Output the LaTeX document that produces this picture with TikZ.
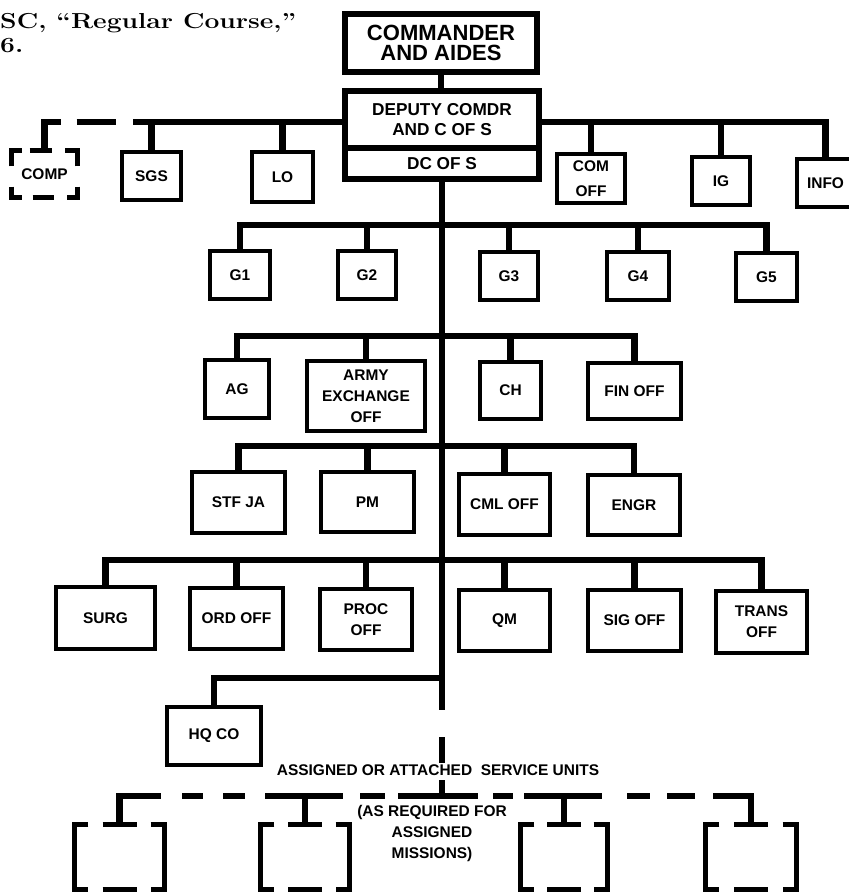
\documentclass[tikz,border=0pt]{standalone}
\usepackage{fontspec}
\setsansfont{Liberation Sans}
\usepackage{graphicx}
\usetikzlibrary{calc}

\tikzset{
  chief/.style={draw, line width=5.5pt, inner sep=0pt, align=center,
    font=\sffamily\bfseries\fontsize{14.7}{17}\selectfont},
  office/.style={draw, line width=3.4pt, inner sep=0pt, align=center,
    font=\sffamily\bfseries\fontsize{13.2}{18}\selectfont},
  ghostbox/.style={inner sep=0pt, align=center,
    font=\sffamily\bfseries\fontsize{13.2}{18}\selectfont},
  caption/.style={inner sep=0pt, align=center,
    font=\sffamily\bfseries\fontsize{13.2}{18}\selectfont},
  link/.style={line width=5.5pt},
  ghost/.style={line width=4.6pt},
}

% broken frame of a unit that is only attached
\newcommand\svcframe[1]{%
  \draw[ghost] ($(#1.north west)+(14,0)$) -- (#1.north west) -- (#1.south west) -- ++(14,0);
  \draw[ghost] ($(#1.north east)+(-14,0)$) -- (#1.north east) -- (#1.south east) -- ++(-14,0);
  \draw[ghost] ($(#1.north)+(-17,0)$) -- ++(34,0);
  \draw[ghost] ($(#1.south)+(-17,0)$) -- ++(34,0);
}

\begin{document}
\begin{tikzpicture}[x=0.03cm, y=-0.03cm]
 \clip (0,0) rectangle (849,895);

 % text cut from the page
 \node[anchor=north west, align=left, inner sep=0pt, font=\bfseries\fontsize{18.5}{20.5}\selectfont] (head) at (0,13)
   {\scalebox{1.22}[1]{SC, “Regular Course,”}\\\scalebox{1.22}[1]{6.}};

 % command group
 \node[chief, font=\sffamily\bfseries\fontsize{18.8}{17}\selectfont, minimum width=5.76cm, minimum height=1.74cm] (cmdr) at (441,43) {COMMANDER\\AND AIDES};
 \node[chief, minimum width=5.82cm, minimum height=1.71cm] (dep) at (442,119.5) {DEPUTY COMDR\\AND C OF S};
 \node[chief, minimum width=5.82cm, minimum height=0.93cm] (dcs) at (442,163.5) {DC OF S};
 \draw[link] (cmdr.south) -- (cmdr.south |- dep.north);

 % personal staff
 \coordinate (sbus) at (0,122);
 \node[ghostbox, minimum width=1.98cm, minimum height=1.41cm] (comp) at (44.5,174) {COMP};
 \node[office, minimum width=1.77cm, minimum height=1.44cm] (sgs) at (151.5,176) {SGS};
 \node[office, minimum width=1.83cm, minimum height=1.5cm] (lo) at (282.5,177) {LO};
 \node[office, minimum width=2.04cm, minimum height=1.47cm] (comoff) at (591,178.5) {COM\\[3pt]OFF};
 \node[office, minimum width=1.74cm, minimum height=1.44cm] (ig) at (721,181) {IG};
 \node[office, minimum width=1.71cm, minimum height=1.44cm] (info) at (825.5,183) {INFO};
 \draw[link] (dep.east |- sbus) -| (info.north);
 \foreach \n in {comoff,ig,sgs,lo} \draw[link] (\n.north) -- (\n.north |- sbus);
 \draw[link] (dep.west |- sbus) -- ($(sgs.north |- sbus)+(-19,0)$);
 \draw[link] (comp.north) |- ($(comp.north |- sbus)+(16,0)$);
 \draw[link] ($(comp.north |- sbus)+(32,0)$) -- ++(39,0);
 \draw[ghost] ($(comp.north west)+(0,16)$) -- (comp.north west) -- ++(11,0);
 \draw[ghost] ($(comp.north east)+(0,16)$) -- (comp.north east) -- ++(-13,0);
 \draw[ghost] ($(comp.south west)+(0,-11)$) -- (comp.south west) -- ++(11,0);
 \draw[ghost] ($(comp.south east)+(0,-11)$) -- (comp.south east) -- ++(-11,0);
 \draw[ghost] ($(comp.north)+(-15,0)$) -- ++(22,0);
 \draw[ghost] ($(comp.south)+(-12,0)$) -- ++(21,0);

 % general staff
 \coordinate (gbus) at (0,225);
 \node[office, minimum width=1.8cm, minimum height=1.44cm] (g1) at (240,275) {G1};
 \node[office, minimum width=1.74cm, minimum height=1.44cm] (g2) at (367,275) {G2};
 \node[office, minimum width=1.74cm, minimum height=1.44cm] (g3) at (509,276) {G3};
 \node[office, minimum width=1.86cm, minimum height=1.44cm] (g4) at (638,276) {G4};
 \node[office, minimum width=1.83cm, minimum height=1.44cm] (g5) at (766.5,277) {G5};
 \draw[link] (g1.north) |- (g5.north |- gbus) -- (g5.north);
 \foreach \n in {g2,g3,g4} \draw[link] (\n.north) -- (\n.north |- gbus);

 % special staff
 \coordinate (abus) at (0,336);
 \node[office, minimum width=1.92cm, minimum height=1.74cm] (ag) at (237,389) {AG};
 \node[office, minimum width=3.54cm, minimum height=2.1cm] (army) at (366,396) {ARMY\\EXCHANGE\\OFF};
 \node[office, minimum width=1.83cm, minimum height=1.71cm] (ch) at (510.5,390.5) {CH};
 \node[office, minimum width=2.79cm, minimum height=1.68cm] (fin) at (634.5,391) {FIN OFF};
 \draw[link] (ag.north) |- (fin.north |- abus) -- (fin.north);
 \foreach \n in {army,ch} \draw[link] (\n.north) -- (\n.north |- abus);

 \coordinate (tbus) at (0,446);
 \node[office, minimum width=2.79cm, minimum height=1.83cm] (stf) at (238.5,502.5) {STF JA};
 \node[office, minimum width=2.79cm, minimum height=1.8cm] (pm) at (367.5,502) {PM};
 \node[office, minimum width=2.73cm, minimum height=1.83cm] (cml) at (504.5,504.5) {CML OFF};
 \node[office, minimum width=2.76cm, minimum height=1.8cm] (engr) at (634,505) {ENGR};
 \draw[link] (stf.north) |- (engr.north |- tbus) -- (engr.north);
 \foreach \n in {pm,cml} \draw[link] (\n.north) -- (\n.north |- tbus);

 \coordinate (rbus) at (0,560);
 \node[office, minimum width=2.97cm, minimum height=1.86cm] (surg) at (105.5,618) {SURG};
 \node[office, minimum width=2.79cm, minimum height=1.83cm] (ord) at (236.5,618.5) {ORD OFF};
 \node[office, minimum width=2.76cm, minimum height=1.83cm] (proc) at (366,619.5) {PROC\\OFF};
 \node[office, minimum width=2.73cm, minimum height=1.83cm] (qm) at (504.5,620.5) {QM};
 \node[office, minimum width=2.79cm, minimum height=1.83cm] (sig) at (634.5,620.5) {SIG OFF};
 \node[office, minimum width=2.73cm, minimum height=1.86cm] (trans) at (761.5,622) {TRANS\\OFF};
 \draw[link] (surg.north) |- (trans.north |- rbus) -- (trans.north);
 \foreach \n in {ord,proc,qm,sig} \draw[link] (\n.north) -- (\n.north |- rbus);

 % headquarters company
 \coordinate (hbus) at (0,678);
 \coordinate (trunkend) at (0,710);
 \node[office, minimum width=2.82cm, minimum height=1.74cm] (hq) at (214,736) {HQ CO};
 \draw[link] (dcs.south) -- (dcs.south |- trunkend);
 \draw[link] (hq.north) |- (dcs.south |- hbus);

 % attached units
 \coordinate (svcbus) at (0,796);
 \node[caption, anchor=base] (svc) at (438,775) {ASSIGNED OR ATTACHED\ \ SERVICE UNITS};
 \node[caption, anchor=north] (req) at (432,805) {(AS REQUIRED FOR\\ASSIGNED\\MISSIONS)};
 \node[ghostbox, minimum width=2.7cm, minimum height=1.95cm] (u1) at (119.5,857) {};
 \node[ghostbox, minimum width=2.67cm, minimum height=1.95cm] (u2) at (305,857) {};
 \node[ghostbox, minimum width=2.61cm, minimum height=1.95cm] (u3) at (564,857) {};
 \node[ghostbox, minimum width=2.73cm, minimum height=1.95cm] (u4) at (751,857) {};
 \foreach \n in {u1,u2,u3,u4} \svcframe{\n};
 \draw[link] ($(dcs.south |- svcbus)+(0,-59)$) -- ++(0,26);
 \draw[link] ($(dcs.south |- svcbus)+(0,-16)$) -- (dcs.south |- svcbus);
 \draw[link] ($(dcs.south |- svcbus)+(-44,0)$) -- ++(80,0);
 \draw[link] (u1.north) |- ($(u1.north |- svcbus)+(41,0)$);
 \draw[link] (u4.north) |- ($(u4.north |- svcbus)+(-38,0)$);
 \foreach \n in {u2,u3} {
   \draw[link] (\n.north) -- (\n.north |- svcbus);
   \draw[link] ($(\n.north |- svcbus)+(-40,0)$) -- ++(78,0);
 }
 \foreach \a/\b in {182/203,223/245,360/385,493/513,627/650,667/695}
   \draw[link] (\a,796) -- (\b,796);
\end{tikzpicture}
\end{document}
